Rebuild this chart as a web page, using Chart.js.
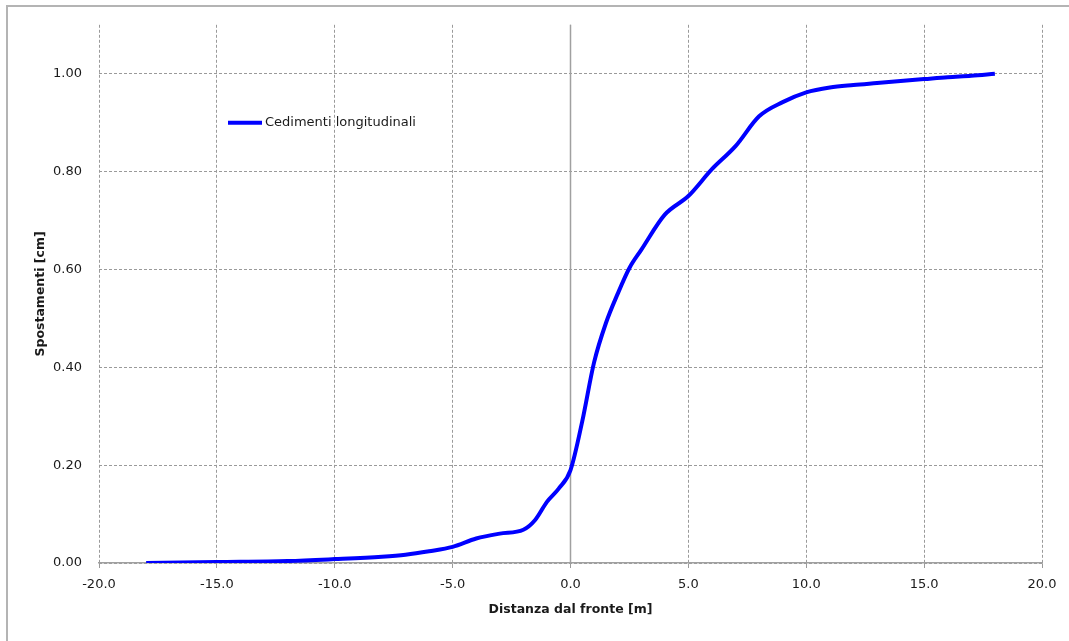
<!DOCTYPE html>
<html>
<head>
<meta charset="utf-8">
<script src="https://cdn.jsdelivr.net/npm/chart.js@4"></script>
<style>
    html, body { margin: 0; padding: 0; background: #fff; }
    #wrap { position: relative; width: 1069px; height: 641px; overflow: hidden; }
    #frame { position: absolute; left: 6px; top: 5px; width: 1100px; height: 700px;
             border-left: 2px solid #b4b4b4; border-top: 2px solid #b4b4b4; }
    canvas { position: absolute; left: 0; top: 0; }
</style>
</head>
<body>
<div id="wrap">
    <div id="frame"></div>
    <canvas id="chart" width="1069" height="641"></canvas>
</div>
<script>
// distanza dal fronte [m]
const distanze = [-18, -15, -12, -10, -8, -7, -6, -5, -4, -3, -2, -1.5, -1, -0.5, 0,
    0.5, 1, 1.5, 2, 2.5, 3, 4, 5, 6, 7, 8, 9, 10, 11, 12, 13, 14, 15, 16, 17, 18];
// spostamenti [cm]
const spostamenti = [0.000, 0.002, 0.004, 0.008, 0.013, 0.017, 0.024, 0.033, 0.050, 0.060, 0.068, 0.088, 0.125, 0.152, 0.190,
    0.290, 0.410, 0.490, 0.550, 0.603, 0.640, 0.712, 0.750, 0.805, 0.852, 0.913, 0.942, 0.962, 0.972, 0.977, 0.981, 0.985, 0.989, 0.993, 0.996, 1.000];
const xTicks = [-20, -15, -10, -5, 0, 5, 10, 15, 20];
const yTicks = [0, 0.2, 0.4, 0.6, 0.8, 1.0];
const serieNome = 'Cedimenti longitudinali';

const FONT = "'DejaVu Sans', sans-serif";
const GRID = '#9a9a9a';

// linea dello zero (continua) e legenda dentro il grafico
const extraPlugin = {
    id: 'extra',
    beforeDatasetsDraw(chart) {
        const { ctx, chartArea, scales } = chart;
        const x0 = scales.x.getPixelForValue(0);
        ctx.save();
        ctx.strokeStyle = '#a0a0a0';
        ctx.lineWidth = 1.5;
        ctx.beginPath();
        ctx.moveTo(x0, chartArea.top);
        ctx.lineTo(x0, chartArea.bottom);
        ctx.stroke();
        ctx.restore();
    },
    afterDraw(chart) {
        const { ctx, chartArea } = chart;
        const lx = chartArea.left + 129;
        const ly = chartArea.top + 98;
        ctx.save();
        ctx.strokeStyle = '#0000ff';
        ctx.lineWidth = 4;
        ctx.beginPath();
        ctx.moveTo(lx, ly);
        ctx.lineTo(lx + 34, ly);
        ctx.stroke();
        ctx.fillStyle = '#1a1a1a';
        ctx.font = '13px ' + FONT;
        ctx.textBaseline = 'middle';
        ctx.fillText(serieNome, lx + 37, ly);
        ctx.restore();
    }
};

const ctx = document.getElementById('chart').getContext('2d');
new Chart(ctx, {
    type: 'scatter',
    data: {
        datasets: [{
            label: serieNome,
            data: distanze.map((d, i) => ({ x: d, y: spostamenti[i] })),
            showLine: true,
            borderColor: '#0000ff',
            backgroundColor: '#0000ff',
            borderWidth: 4,
            pointRadius: 0,
            tension: 0.4,
            cubicInterpolationMode: 'monotone'
        }]
    },
    options: {
        responsive: false,
        animation: false,
        layout: { padding: { left: 0, top: 24, right: 27, bottom: 0 } },
        plugins: {
            legend: { display: false },
            tooltip: { enabled: false }
        },
        scales: {
            x: {
                type: 'linear',
                min: -20,
                max: 20,
                afterFit: s => { s.height = 78; },
                afterBuildTicks: s => { s.ticks = xTicks.map(v => ({ value: v })); },
                ticks: {
                    color: '#1a1a1a',
                    font: { family: FONT, size: 13 },
                    padding: 9,
                    maxRotation: 0,
                    callback: v => v.toFixed(1)
                },
                grid: { color: GRID, lineWidth: 1, tickLength: 5, drawTicks: true },
                border: { display: true, color: '#a0a0a0', width: 1.5, dash: [3, 2] },
                title: {
                    display: true,
                    text: 'Distanza dal fronte [m]',
                    color: '#1a1a1a',
                    font: { family: FONT, size: 12.5, weight: 'bold' },
                    padding: { top: 0, bottom: 24 }
                }
            },
            y: {
                type: 'linear',
                min: 0,
                max: 1.1,
                afterFit: s => { s.width = 99; },
                afterBuildTicks: s => { s.ticks = yTicks.map(v => ({ value: v })); },
                ticks: {
                    color: '#1a1a1a',
                    font: { family: FONT, size: 13 },
                    padding: 17,
                    callback: v => v.toFixed(2)
                },
                grid: { color: GRID, lineWidth: 1, drawTicks: false },
                border: { display: false, dash: [3, 2] },
                title: {
                    display: true,
                    text: 'Spostamenti [cm]',
                    color: '#1a1a1a',
                    font: { family: FONT, size: 12.5, weight: 'bold' },
                    padding: { top: 33, bottom: 0 }
                }
            }
        }
    },
    plugins: [extraPlugin]
});
</script>
</body>
</html>
